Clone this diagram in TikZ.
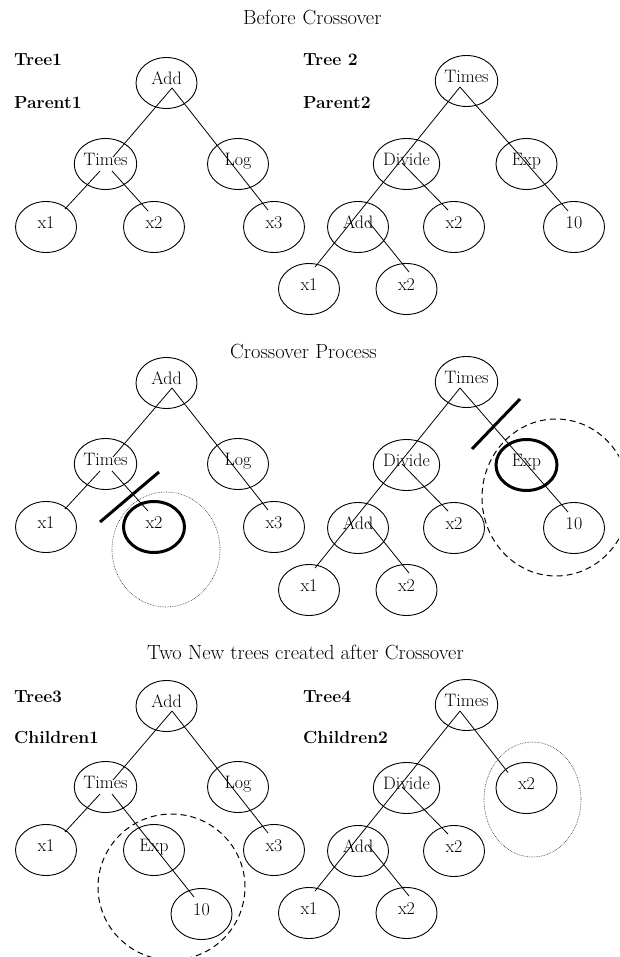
\documentclass[tikz,border=0pt]{standalone}
\usetikzlibrary{shapes.geometric,calc}
\newcommand\ndfont{\fontsize{18}{20}\selectfont}
\newcommand\ttlfont{\fontsize{20.5}{24}\selectfont}
\newcommand\lblfont{\fontsize{17.5}{20}\selectfont\bfseries}
\tikzset{
 nd/.style={draw, ellipse, minimum width=61pt, minimum height=51pt, inner sep=0pt, line width=0.9pt, font=\ndfont, text height=11pt, text depth=8pt},
 bnd/.style={nd, line width=3pt},
 ln/.style={line width=0.8pt},
 cutln/.style={line width=3pt},
 ttl/.style={anchor=base west, font=\ttlfont, inner sep=0pt},
 lbl/.style={anchor=base west, font=\lblfont, inner sep=0pt},
 dotc/.style={line width=0.6pt, dash pattern=on 0.7pt off 1pt, black!80},
 dashc/.style={line width=1pt, dash pattern=on 6pt off 4pt},
}
\begin{document}
\begin{tikzpicture}[x=1pt,y=-1pt]
\clip (0,0) rectangle (619,957);
\fill[white] (0,0) rectangle (619,957);

% titles and labels
\node[ttl] (h1) at (243,25) {Before\hspace{7pt}Crossover};
\node[ttl] (h2) at (230,358) {Crossover Process};
\node[ttl] (h3) at (147,659) {Two New trees created after Crossover};
\node[lbl] (g1) at (14,66) {Tree1};
\node[lbl] (g2) at (14,109) {Parent1};
\node[lbl] (g3) at (303,66) {Tree 2};
\node[lbl] (g4) at (303,109) {Parent2};
\node[lbl] (g5) at (14,702) {Tree3};
\node[lbl] (g6) at (14,743) {Children1};
\node[lbl] (g7) at (303,702) {Tree4};
\node[lbl] (g8) at (303,743) {Children2};

% ===== Section 1 =====
\begin{scope}
\node[nd] (a1) at (166.5,83) {Add};
\node[nd] (t1) at (105.5,164) {Times};
\node[nd] (l1) at (238,164) {Log};
\node[nd] (p1) at (46,227) {x1};
\node[nd] (q1) at (154,227) {x2};
\node[nd] (r1) at (274,227) {x3};
\draw[ln] ($(a1)+(5.5,5)$) -- ($(t1)+(7.5,-7)$);
\draw[ln] ($(a1)+(5.5,5)$) -- ($(r1)+(-6,-17)$);
\draw[ln] ($(t1)+(-5.5,7)$) -- ($(p1)+(19,-18)$);
\draw[ln] ($(t1)+(6.5,7)$) -- ($(q1)+(-6,-16)$);
\end{scope}
\begin{scope}
\node[nd] (b1) at (466.5,81) {Times};
\node[nd] (d1) at (406.5,164) {Divide};
\node[nd] (e1) at (526.5,164) {Exp};
\node[nd] (c1) at (358,227) {Add};
\node[nd] (u1) at (454,227) {x2};
\node[nd] (n1) at (574,227) {10};
\node[nd] (v1) at (309,289) {x1};
\node[nd] (w1) at (406.5,289) {x2};
\draw[ln] ($(b1)+(-6.5,6)$) -- ($(v1)+(6,-22)$);
\draw[ln] ($(b1)+(-6.5,6)$) -- ($(n1)+(-6,-16)$);
\draw[ln] ($(d1)+(-4.5,-1)$) -- ($(u1)+(-6,-17)$);
\draw[ln] ($(c1)+(10,-6)$) -- ($(w1)+(2.5,-17)$);
\end{scope}

% ===== Section 2 =====
\begin{scope}[shift={(0,300)}]
\node[nd] (a2) at (166.5,83) {Add};
\node[nd] (t2) at (105.5,164) {Times};
\node[nd] (l2) at (238,164) {Log};
\node[nd] (p2) at (46,227) {x1};
\node[bnd] (q2) at (154,227) {x2};
\node[nd] (r2) at (274,227) {x3};
\draw[ln] ($(a2)+(5.5,5)$) -- ($(t2)+(7.5,-7)$);
\draw[ln] ($(a2)+(5.5,5)$) -- ($(r2)+(-6,-17)$);
\draw[ln] ($(t2)+(-5.5,7)$) -- ($(p2)+(19,-18)$);
\draw[ln] ($(t2)+(6.5,7)$) -- ($(q2)+(-6,-16)$);
\end{scope}
\begin{scope}[shift={(0,301)}]
\node[nd] (b2) at (466.5,81) {Times};
\node[nd] (d2) at (406.5,164) {Divide};
\node[bnd] (e2) at (526.5,164) {Exp};
\node[nd] (c2) at (358,227) {Add};
\node[nd] (u2) at (454,227) {x2};
\node[nd] (n2) at (574,227) {10};
\node[nd] (v2) at (309,289) {x1};
\node[nd] (w2) at (406.5,289) {x2};
\draw[ln] ($(b2)+(-6.5,6)$) -- ($(v2)+(6,-22)$);
\draw[ln] ($(b2)+(-6.5,6)$) -- ($(n2)+(-6,-16)$);
\draw[ln] ($(d2)+(-4.5,-1)$) -- ($(u2)+(-6,-17)$);
\draw[ln] ($(c2)+(10,-6)$) -- ($(w2)+(2.5,-17)$);
\end{scope}
\draw[dotc] (166,549.5) ellipse [x radius=54pt, y radius=57.5pt];
\draw[cutln] (100,522) -- (159,472);
\draw[cutln] (472,449) -- (520,399);
\draw[dashc] (556,497.5) ellipse [x radius=74pt, y radius=78.5pt];

% ===== Section 3 =====
\begin{scope}[shift={(0,623)}]
\node[nd] (a3) at (166.5,83) {Add};
\node[nd] (t3) at (105.5,164) {Times};
\node[nd] (l3) at (238,164) {Log};
\node[nd] (p3) at (46,227) {x1};
\node[nd] (q3) at (154,227) {Exp};
\node[nd] (r3) at (274,227) {x3};
\node[nd] (s3) at (201.5,291) {10};
\draw[ln] ($(a3)+(5.5,5)$) -- ($(t3)+(7.5,-7)$);
\draw[ln] ($(a3)+(5.5,5)$) -- ($(r3)+(-6,-17)$);
\draw[ln] ($(t3)+(-5.5,7)$) -- ($(p3)+(19,-18)$);
\draw[ln] ($(t3)+(6.5,7)$) -- ($(s3)+(-7.5,-17)$);
\end{scope}
\begin{scope}[shift={(0,624)}]
\node[nd] (b3) at (466.5,81) {Times};
\node[nd] (d3) at (406.5,164) {Divide};
\node[nd] (e3) at (526.5,164) {x2};
\node[nd] (c3) at (358,227) {Add};
\node[nd] (u3) at (454,227) {x2};
\node[nd] (v3) at (309,289) {x1};
\node[nd] (w3) at (406.5,289) {x2};
\draw[ln] ($(b3)+(-6.5,6)$) -- ($(v3)+(6,-22)$);
\draw[ln] ($(b3)+(-6.5,6)$) -- ($(e3)+(-18.5,-15.5)$);
\draw[ln] ($(d3)+(-4.5,-1)$) -- ($(u3)+(-6,-17)$);
\draw[ln] ($(c3)+(10,-6)$) -- ($(w3)+(2.5,-17)$);
\end{scope}
\draw[dashc] (171.5,887) ellipse [x radius=73.5pt, y radius=73pt];
\draw[dotc] (532.5,799.5) ellipse [x radius=48.5pt, y radius=57.5pt];
\end{tikzpicture}
\end{document}
